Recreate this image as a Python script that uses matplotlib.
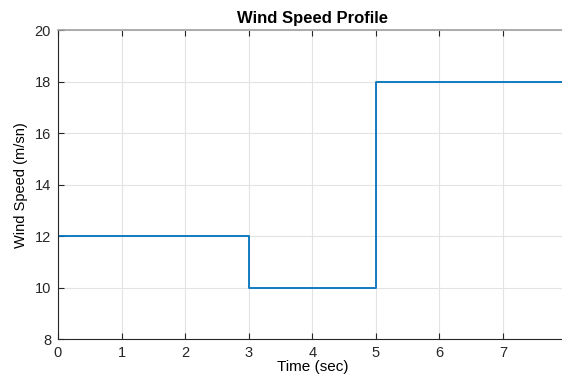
import matplotlib.pyplot as plt

# wind speed profile (step changes)
time_s = [0, 3, 5, 8]
wind_speed = [12, 10, 18, 18]
x_ticks = [0, 1, 2, 3, 4, 5, 6, 7]
y_ticks = [8, 10, 12, 14, 16, 18, 20]

plt.rcParams['font.family'] = ['Liberation Sans', 'DejaVu Sans']

fig = plt.figure(figsize=(5.62, 3.77), dpi=100)
ax = fig.add_axes([0.1032, 0.1, 0.905, 0.82])

ax.step(time_s, wind_speed, where='post', color='#0072BD', linewidth=1.3)

ax.set_xlim(0, 8)
ax.set_ylim(8, 20)
ax.set_xticks(x_ticks)
ax.set_yticks(y_ticks)
ax.grid(True, color='#e3e3e3', linewidth=0.8)
ax.set_axisbelow(True)
ax.tick_params(direction='in', length=4, width=0.8, colors='#262626', labelsize=10.5,
               top=True, right=False)
ax.tick_params(axis='y', pad=5)
ax.tick_params(axis='x', pad=5)
for side in ['left', 'bottom']:
    ax.spines[side].set_color('#262626')
    ax.spines[side].set_linewidth(0.8)
ax.spines['top'].set_color('#a0a0a0')
ax.spines['top'].set_linewidth(1.2)
ax.spines['right'].set_visible(False)

ax.set_title('Wind Speed Profile', fontsize=12, fontweight='bold', pad=5)
ax.set_xlabel('Time (sec)', fontsize=11, labelpad=0)
ax.set_ylabel('Wind Speed (m/sn)', fontsize=10.5, labelpad=5)

fig.savefig('out.png', dpi=100)
